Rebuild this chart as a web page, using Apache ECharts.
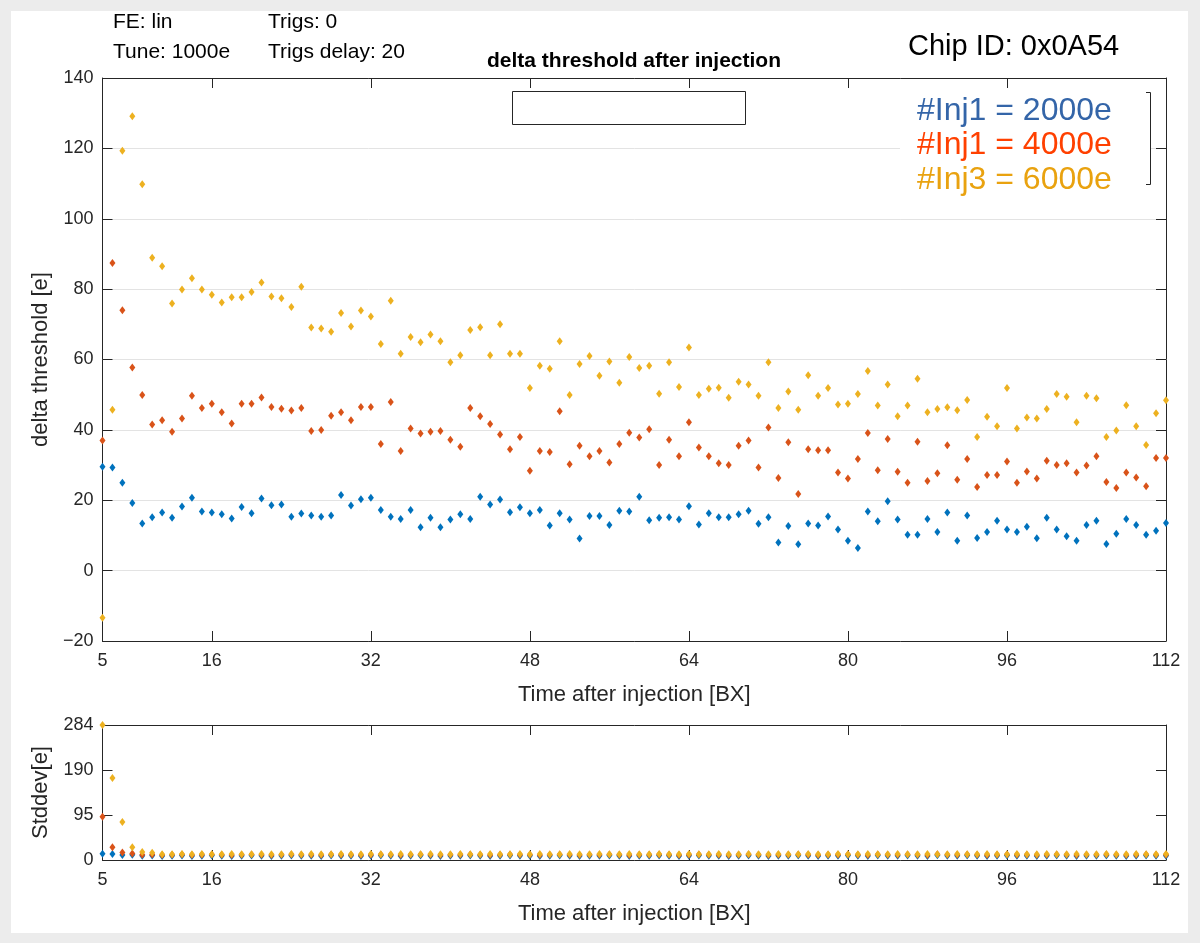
<!DOCTYPE html>
<html>
<head>
<meta charset="utf-8">
<script src="https://cdn.jsdelivr.net/npm/echarts@6/dist/echarts.min.js"></script>
<style>
html,body{margin:0;padding:0;background:#ececec;}
#panel{position:absolute;left:11px;top:11px;width:1177px;height:922px;background:#fff;}
#chart{position:absolute;left:0;top:0;width:1200px;height:943px;}
</style>
</head>
<body>
<div id="panel"></div>
<div id="chart"></div>
<script>
// x positions (bunch crossings after injection)
const bx = [];
for (let i = 5; i <= 112; i++) bx.push(i);
const xTicks = [5, 16, 32, 48, 64, 80, 96, 112];
const stdTicks = [0, 94.8, 189.6, 284.4];

const seriesNames = ['#Inj1 = 2000e', '#Inj1 = 4000e', '#Inj3 = 6000e'];

const delta2000 = [29.5,29.3,25.0,19.2,13.4,15.2,16.5,15.0,18.2,20.7,
16.8,16.5,16.0,14.8,18.1,16.3,20.5,18.6,18.8,15.3,
16.2,15.7,15.3,15.7,21.5,18.5,20.3,20.7,17.2,15.3,
14.7,17.2,12.3,15.0,12.3,14.5,16.0,14.7,21.0,18.8,
20.2,16.6,18.0,16.3,17.2,12.8,16.3,14.5,9.1,15.5,
15.5,13.0,17.0,16.8,21.0,14.3,15.0,15.2,14.5,18.3,
13.1,16.3,15.2,15.2,16.0,17.0,13.3,15.2,8.0,12.7,
7.5,13.4,12.8,15.4,11.7,8.5,6.4,16.8,14.0,19.7,
14.5,10.2,10.2,14.7,11.0,16.5,8.5,15.7,9.3,11.0,
14.2,11.7,11.0,12.5,9.2,15.0,11.7,9.8,8.5,13.0,
14.2,7.6,10.5,14.7,13.0,10.2,11.3,13.5];

const delta4000 = [37.0,87.4,74.0,57.7,49.9,41.5,42.7,39.5,43.2,49.7,
46.2,47.4,45.0,41.8,47.4,47.4,49.2,46.5,46.0,45.5,
46.2,39.7,40.0,44.0,45.0,42.7,46.5,46.5,36.0,47.9,
34.0,40.4,39.0,39.5,39.7,37.2,35.2,46.2,43.9,41.7,
38.7,34.5,38.0,28.4,34.0,33.7,45.3,30.2,35.5,32.5,
34.0,30.7,36.0,39.2,37.8,40.2,30.0,37.2,32.5,42.2,
35.0,32.5,30.5,30.0,35.5,37.0,29.3,40.7,26.3,36.5,
21.8,34.5,34.2,34.2,27.9,26.2,31.7,39.1,28.5,37.4,
28.1,25.0,36.6,25.5,27.7,35.6,25.8,31.7,23.8,27.2,
27.2,31.0,25.0,28.2,26.2,31.2,30.0,30.5,27.9,29.9,
32.5,25.2,23.5,27.9,26.5,24.0,32.0,32.0];

const delta6000 = [-13.4,45.7,119.3,129.1,109.8,88.9,86.5,75.9,79.9,83.1,
79.9,78.4,76.2,77.7,77.7,79.2,81.9,77.9,77.4,74.9,
80.7,69.1,68.8,67.9,73.2,69.4,73.9,72.2,64.4,76.7,
61.6,66.4,64.9,67.1,65.2,59.2,61.2,68.4,69.2,61.2,
70.0,61.6,61.6,51.9,58.2,57.4,65.2,49.9,58.7,61.0,
55.4,59.4,53.4,60.7,57.6,58.2,50.3,59.2,52.2,63.4,
49.9,51.7,52.0,49.1,53.7,52.9,49.7,59.2,46.2,50.9,
45.7,55.5,49.7,51.9,47.2,47.4,50.2,56.7,46.9,52.9,
43.9,46.9,54.5,45.0,45.9,46.4,45.6,48.5,38.0,43.7,
41.0,51.9,40.4,43.5,43.2,45.9,50.2,49.4,42.2,49.7,
49.0,38.0,39.8,47.0,41.0,35.7,44.7,48.4];

const std2000 = [13,12.5,10.5,11,9,9.5,8.5,9,9.5,8.5,
9,9.5,9,8.5,9,9.5,9,8.5,9,9.5,
9,9,8.5,9.5,9,9,8.5,9,9.5,9,
8.5,9,9.5,9,8.5,9,9,9.5,9,8.5,
9,9.5,9,9,8.5,9,9.5,9,8.5,9,
9,9.5,9,8.5,9,9,9.5,9,8.5,9,
9.5,9,9,8.5,9,9.5,9,8.5,9,9,
9.5,9,8.5,9,9,9.5,9,8.5,9.5,9,
9,9.5,9,8.5,10,9,9,9.5,9,8.5,
9,9.5,9,9,8.5,9,9.5,9,8.5,9,
9,9.5,9,8.5,9,9.5,9,9];

const std4000 = [91,27,16,13.5,11,11.5,10.5,11,11.5,10.5,
11,11.5,11,10.5,11,11.5,11,10.5,11,11.5,
11,11,10.5,11.5,11,11,10.5,11,11.5,11,
10.5,11,11.5,11,10.5,11,11,11.5,11,10.5,
11,11.5,11,11,10.5,11,11.5,11,10.5,11,
11,11.5,11,10.5,11,11,11.5,11,10.5,11,
11.5,11,11,10.5,11,11.5,11,10.5,11,11,
11.5,11,10.5,11,11,11.5,11,10.5,11.5,11,
11,11.5,11,10.5,12,11,11,11.5,11,10.5,
11,11.5,11,11,10.5,11,11.5,11,10.5,11,
11,11.5,11,10.5,11,11.5,11,11];

const std6000 = [284.4,173,80,26.6,17,15.4,12,12,12.5,12,
12.5,12,12,12.5,12,12,12.5,12,12,12.5,
12,12.5,12,12,12.5,12,12,12.5,12,12,
12.5,12,12,12.5,12,12,12.5,12,12,12.5,
12,12,12.5,12,12.5,12,12,12.5,12,12,
12.5,12,12,12.5,12,12,12.5,12,12,12.5,
12,12,12.5,12,12,12.5,12,12,12.5,12,
12,12.5,12,12,12.5,12,12,12.5,12,12,
12.5,12,12,12.5,12,12,12.5,12,12,12.5,
12,12,12.5,12,12,12.5,12,12,12.5,12,
12,12.5,12,12,12.5,12,12,12.5];

const markerColors = ['#0072BD', '#D95319', '#EDB120'];
const legendColors = ['#3465A8', '#FF4000', '#E9A20F'];

const FONT = '"Liberation Sans", Arial, sans-serif';
const AX = '#262626';
const TICK_FS = 18;
const NAME_FS = 22;

function pairs(vals) { return bx.map((x, i) => [x, vals[i]]); }
function minusFmt(v) { return String(Math.round(v)).replace('-', '\u2212'); }

function xAxisPair(gi, showName) {
  return [{
    type: 'value', gridIndex: gi, min: 5, max: 112, position: 'bottom',
    axisLine: { show: true, onZero: false, lineStyle: { color: AX, width: 1 } },
    axisTick: { show: true, inside: true, length: 10, customValues: xTicks, lineStyle: { color: AX } },
    axisLabel: { show: true, customValues: xTicks, fontSize: TICK_FS, color: AX, fontFamily: FONT, margin: 11 },
    splitLine: { show: false },
    name: showName, nameLocation: 'middle', nameGap: 43,
    nameTextStyle: { fontSize: NAME_FS, color: AX, fontFamily: FONT }
  }, {
    type: 'value', gridIndex: gi, min: 5, max: 112, position: 'top',
    axisLine: { show: true, onZero: false, lineStyle: { color: AX, width: 1 } },
    axisTick: { show: true, inside: true, length: 10, customValues: xTicks, lineStyle: { color: AX } },
    axisLabel: { show: false },
    splitLine: { show: false }
  }];
}

const symSize = [6, 8];

function scatter(name, vals, idx, gi) {
  return {
    type: 'scatter', name: name, xAxisIndex: gi * 2, yAxisIndex: gi * 2,
    data: pairs(vals), symbol: 'diamond', symbolSize: symSize,
    itemStyle: { color: markerColors[idx], opacity: 1 },
    clip: false, silent: true, animation: false
  };
}

const chart = echarts.init(document.getElementById('chart'), null, { renderer: 'canvas' });

const option = {
  backgroundColor: 'transparent',
  animation: false,
  grid: [
    { left: 102.5, top: 78, width: 1063.5, height: 563 },
    { left: 102.5, top: 725, width: 1063.5, height: 135 }
  ],
  xAxis: [].concat(xAxisPair(0, 'Time after injection [BX]'), xAxisPair(1, 'Time after injection [BX]')),
  yAxis: [
    {
      type: 'value', gridIndex: 0, min: -20, max: 140, interval: 20, position: 'left',
      axisLine: { show: true, onZero: false, lineStyle: { color: AX } },
      axisTick: { show: true, inside: true, length: 10, lineStyle: { color: AX } },
      axisLabel: { fontSize: TICK_FS, color: AX, fontFamily: FONT, margin: 9, formatter: minusFmt },
      splitLine: { show: true, lineStyle: { color: '#e3e3e3', width: 1 } },
      name: 'delta threshold [e]', nameLocation: 'middle', nameGap: 51, nameRotate: 90,
      nameTextStyle: { fontSize: NAME_FS, color: AX, fontFamily: FONT }
    },
    {
      type: 'value', gridIndex: 0, min: -20, max: 140, interval: 20, position: 'right',
      axisLine: { show: true, onZero: false, lineStyle: { color: AX } },
      axisTick: { show: true, inside: true, length: 10, lineStyle: { color: AX } },
      axisLabel: { show: false }, splitLine: { show: false }
    },
    {
      type: 'value', gridIndex: 1, min: 0, max: 284.4, position: 'left',
      axisLine: { show: true, onZero: false, lineStyle: { color: AX } },
      axisTick: { show: true, inside: true, length: 10, customValues: stdTicks, lineStyle: { color: AX } },
      axisLabel: { customValues: stdTicks, formatter: minusFmt, fontSize: TICK_FS, color: AX, fontFamily: FONT, margin: 9 },
      splitLine: { show: false },
      name: 'Stddev[e]', nameLocation: 'middle', nameGap: 51, nameRotate: 90,
      nameTextStyle: { fontSize: NAME_FS, color: AX, fontFamily: FONT }
    },
    {
      type: 'value', gridIndex: 1, min: 0, max: 284.4, position: 'right',
      axisLine: { show: true, onZero: false, lineStyle: { color: AX } },
      axisTick: { show: true, inside: true, length: 10, customValues: stdTicks, lineStyle: { color: AX } },
      axisLabel: { show: false }, splitLine: { show: false }
    }
  ],
  series: [
    scatter(seriesNames[0], delta2000, 0, 0),
    scatter(seriesNames[1], delta4000, 1, 0),
    scatter(seriesNames[2], delta6000, 2, 0),
    scatter(seriesNames[0], std2000, 0, 1),
    scatter(seriesNames[1], std4000, 1, 1),
    scatter(seriesNames[2], std6000, 2, 1)
  ],
  graphic: [
    { type: 'text', x: 113, y: 22, style: { text: 'FE: lin', font: '21px ' + FONT, fill: '#000', verticalAlign: 'middle' } },
    { type: 'text', x: 113, y: 52, style: { text: 'Tune: 1000e', font: '21px ' + FONT, fill: '#000', verticalAlign: 'middle' } },
    { type: 'text', x: 268, y: 22, style: { text: 'Trigs: 0', font: '21px ' + FONT, fill: '#000', verticalAlign: 'middle' } },
    { type: 'text', x: 268, y: 52, style: { text: 'Trigs delay: 20', font: '21px ' + FONT, fill: '#000', verticalAlign: 'middle' } },
    { type: 'text', x: 634, y: 61, style: { text: 'delta threshold after injection', font: 'bold 21px ' + FONT, fill: '#000', align: 'center', verticalAlign: 'middle' } },
    { type: 'text', x: 908, y: 47, style: { text: 'Chip ID: 0x0A54', font: '29px ' + FONT, fill: '#000', verticalAlign: 'middle' } },
    { type: 'rect', shape: { x: 512.5, y: 91.5, width: 233, height: 33 }, style: { fill: '#fff', stroke: '#262626', lineWidth: 1 }, z: 100 },
    { type: 'rect', shape: { x: 900, y: 92, width: 251, height: 93 }, style: { fill: '#fff' }, z: 100 },
    { type: 'polyline', shape: { points: [[1146, 92.5], [1150.5, 92.5], [1150.5, 184.5], [1146, 184.5]] }, style: { stroke: '#262626', lineWidth: 1, fill: null }, z: 101 },
    { type: 'text', x: 917, y: 111, style: { text: seriesNames[0], font: '32px ' + FONT, fill: legendColors[0], verticalAlign: 'middle' }, z: 102 },
    { type: 'text', x: 917, y: 145, style: { text: seriesNames[1], font: '32px ' + FONT, fill: legendColors[1], verticalAlign: 'middle' }, z: 102 },
    { type: 'text', x: 917, y: 180, style: { text: seriesNames[2], font: '32px ' + FONT, fill: legendColors[2], verticalAlign: 'middle' }, z: 102 }
  ]
};
chart.setOption(option);
</script>
</body>
</html>
